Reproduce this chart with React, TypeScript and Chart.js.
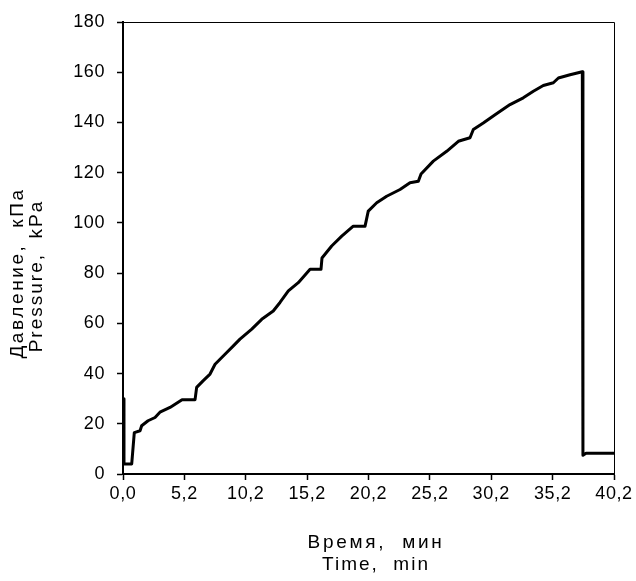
import React, { useEffect, useRef } from "react";
import { Chart, registerables } from "chart.js";

Chart.register(...registerables);

// x positions are in axis units (tick k sits at 5*k, labelled by xTickLabels[k])
const timePos = [
  0, 0.08, 0.71, 0.92, 1.39, 1.52, 2.04, 2.61, 3.01, 3.83, 4.81, 5.87, 6.0, 6.52,
  7.09, 7.5, 8.31, 8.99, 9.53, 10.49, 11.3, 12.24, 12.79, 13.47, 14.28, 15.24,
  16.13, 16.21, 17.0, 17.82, 18.76, 19.72, 19.98, 20.67, 21.48, 22.57, 23.38,
  24.06, 24.28, 25.28, 26.37, 27.32, 28.27, 28.54, 29.35, 30.31, 31.53, 32.61,
  33.43, 34.24, 35.06, 35.47, 36.42, 37.42, 37.47, 37.72, 40,
];
const pressure = [
  30, 4, 4, 16.5, 17.2, 19.2, 21.2, 22.5, 24.6, 26.5, 29.6, 29.6, 34.5, 37.1,
  39.8, 43.7, 47.7, 51, 53.7, 57.7, 61.6, 64.9, 68.3, 72.9, 76.2, 81.5,
  81.5, 86, 90.8, 94.7, 98.7, 98.7, 104.7, 108, 110.6, 113.3, 116,
  116.6, 119.5, 124.6, 128.5, 132.5, 133.9, 137.2, 139.8, 143.1, 147.1, 149.8,
  152.4, 154.7, 155.8, 157.7, 159, 160.2, 7.5, 8.3, 8.3,
];
const xTickLabels = ["0,0", "5,2", "10,2", "15,2", "20,2", "25,2", "30,2", "35,2", "40,2"];
const xTitle = ["Время,  мин", "Time,  min"];
const yTitle = ["Давление,  кПа", "Pressure,  kPa"];

const FONT = '"Liberation Sans", Arial, sans-serif';
const SPACING = "0.6px";

const spacingPlugin = {
  id: "spacing",
  beforeLayout(chart: any) {
    chart.ctx.letterSpacing = SPACING;
  },
  beforeDraw(chart: any) {
    chart.ctx.letterSpacing = SPACING;
  },
  afterDraw(chart: any) {
    const { ctx, chartArea } = chart;
    ctx.save();
    // plot-area frame: top and right lines
    ctx.strokeStyle = "#000";
    ctx.lineWidth = 1;
    const r = Math.round(chartArea.right) + 0.5;
    const t = Math.round(chartArea.top) + 0.5;
    ctx.beginPath();
    ctx.moveTo(chartArea.left, t);
    ctx.lineTo(r, t);
    ctx.lineTo(r, chartArea.bottom);
    ctx.stroke();
    // titles
    ctx.font = `19px ${FONT}`;
    ctx.fillStyle = "#000";
    ctx.textAlign = "center";
    ctx.textBaseline = "middle";
    ctx.letterSpacing = "2.7px";
    ctx.fillText(xTitle[0], 376, 543);
    ctx.letterSpacing = "2px";
    ctx.fillText(xTitle[1], 376, 565);
    ctx.save();
    ctx.translate(18, 273);
    ctx.rotate(-Math.PI / 2);
    ctx.letterSpacing = "2.6px";
    ctx.fillText(yTitle[0], 0, 0);
    ctx.restore();
    ctx.save();
    ctx.translate(37, 276);
    ctx.rotate(-Math.PI / 2);
    ctx.letterSpacing = "2px";
    ctx.fillText(yTitle[1], 0, 0);
    ctx.restore();
    ctx.restore();
  },
};

export default function App() {
  const ref = useRef<HTMLCanvasElement>(null);
  useEffect(() => {
    if (!ref.current) return;
    const chart = new Chart(ref.current, {
      type: "line",
      data: {
        datasets: [
          {
            data: timePos.map((t, i) => ({ x: t, y: pressure[i] })),
            borderColor: "#000",
            borderWidth: 3,
            pointRadius: 0,
            tension: 0,
            borderJoinStyle: "round",
            borderCapStyle: "round",
          },
        ],
      },
      options: {
        animation: false,
        responsive: false,
        layout: { padding: { top: 22, right: 22, left: 0, bottom: 0 } },
        plugins: { legend: { display: false }, tooltip: { enabled: false } },
        scales: {
          x: {
            type: "linear",
            min: 0,
            max: 40,
            afterFit: (s: any) => {
              s.height = 107;
              s.paddingLeft = 0;
              s.paddingRight = 0;
            },
            ticks: {
              stepSize: 5,
              autoSkip: false,
              maxRotation: 0,
              padding: 3,
              color: "#000",
              font: { family: FONT, size: 18 },
              callback: (v: any) => xTickLabels[Math.round(Number(v) / 5)] ?? "",
            },
            grid: { drawOnChartArea: false, tickLength: 6, tickColor: "#000", tickWidth: 1.5 },
            border: { display: true, color: "#000", width: 2 },
          },
          y: {
            min: 0,
            max: 180,
            afterFit: (s: any) => {
              s.width = 123;
              s.paddingTop = 0;
              s.paddingBottom = 0;
            },
            ticks: {
              stepSize: 20,
              padding: 12,
              color: "#000",
              font: { family: FONT, size: 18 },
            },
            grid: { drawOnChartArea: false, tickLength: 6, tickColor: "#000", tickWidth: 1.5 },
            border: { display: true, color: "#000", width: 2 },
          },
        },
      },
      plugins: [spacingPlugin],
    });
    return () => chart.destroy();
  }, []);
  return (
    <div style={{ position: "absolute", left: 0, top: 0, width: 636, height: 581, background: "#fff" }}>
      <canvas ref={ref} width={636} height={581} style={{ display: "block" }} />
    </div>
  );
}
